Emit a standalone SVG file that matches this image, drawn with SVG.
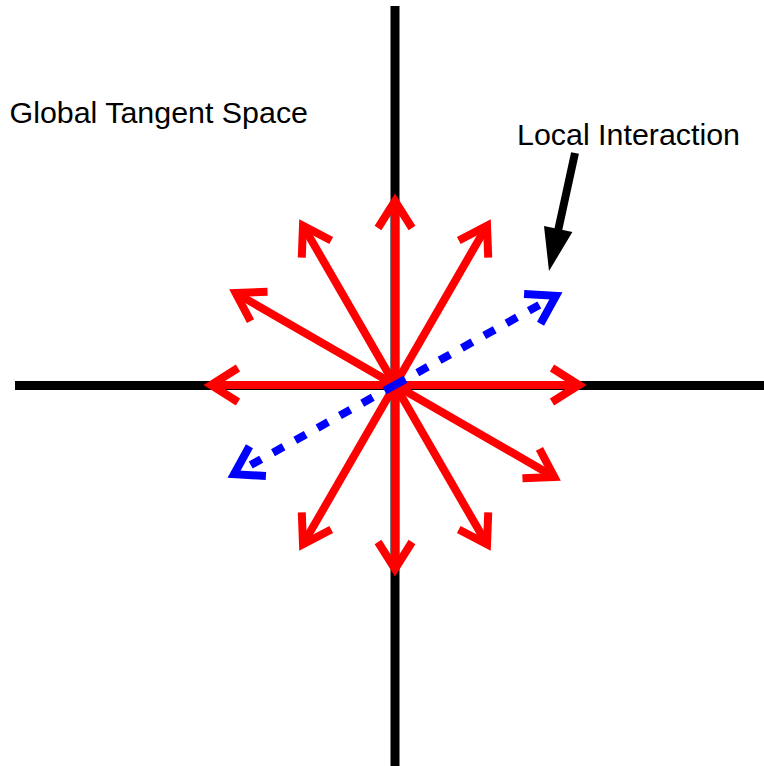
<svg xmlns="http://www.w3.org/2000/svg" xmlns:xlink="http://www.w3.org/1999/xlink" width="764" height="766" viewBox="0 0 764 766">
<style>
.axis{stroke:#000;stroke-width:9;fill:none}
.red{stroke:#ff0000;stroke-width:8;fill:none;stroke-linejoin:miter;stroke-linecap:butt}
.blue{stroke:#0000ff;stroke-width:8;fill:none;stroke-linejoin:miter;stroke-linecap:butt}
.dash{stroke-dasharray:12 13.5}
.lbl{font-family:"Liberation Sans",Arial,sans-serif;font-size:30.4px;fill:#000}
</style>
<defs>
<g id="redArrow" class="red">
<line x1="0" y1="0" x2="184" y2="0"/>
<polyline points="157,-17 184,0 157,17"/>
</g>
<g id="blueArrow" class="blue">
<line class="dash" x1="0" y1="0" x2="176" y2="0"/>
<polyline points="157,-17 184,0 157,17"/>
</g>
</defs>
<rect width="764" height="766" fill="#fff"/>
<g id="axes">
<line class="axis" x1="395" y1="6" x2="395" y2="766"/>
<line class="axis" x1="15" y1="385.5" x2="764" y2="385.5"/>
</g>
<g id="connectors">
<g id="red-vectors">
<use href="#redArrow" xlink:href="#redArrow" transform="translate(395,385) rotate(0)"/>
<use href="#redArrow" xlink:href="#redArrow" transform="translate(395,385) rotate(30)"/>
<use href="#redArrow" xlink:href="#redArrow" transform="translate(395,385) rotate(60)"/>
<use href="#redArrow" xlink:href="#redArrow" transform="translate(395,385) rotate(90)"/>
<use href="#redArrow" xlink:href="#redArrow" transform="translate(395,385) rotate(120)"/>
<use href="#redArrow" xlink:href="#redArrow" transform="translate(395,385) rotate(180)"/>
<use href="#redArrow" xlink:href="#redArrow" transform="translate(395,385) rotate(210)"/>
<use href="#redArrow" xlink:href="#redArrow" transform="translate(395,385) rotate(240)"/>
<use href="#redArrow" xlink:href="#redArrow" transform="translate(395,385) rotate(270)"/>
<use href="#redArrow" xlink:href="#redArrow" transform="translate(395,385) rotate(300)"/>
</g>
<g id="local-interaction-vectors">
<use href="#blueArrow" xlink:href="#blueArrow" transform="translate(395,385) rotate(-29)"/>
<use href="#blueArrow" xlink:href="#blueArrow" transform="translate(395,385) rotate(151)"/>
</g>
<g id="pointer">
<line x1="575" y1="153" x2="558.2" y2="230" stroke="#000" stroke-width="8"/>
<polygon points="572.4,232.1 544,225.9 549,271" fill="#000"/>
</g>
</g>
<g id="label-global">
<text class="lbl" x="9.5" y="123">Global Tangent Space</text>
</g>
<g id="label-local">
<text class="lbl" x="517" y="145">Local Interaction</text>
</g>
</svg>
